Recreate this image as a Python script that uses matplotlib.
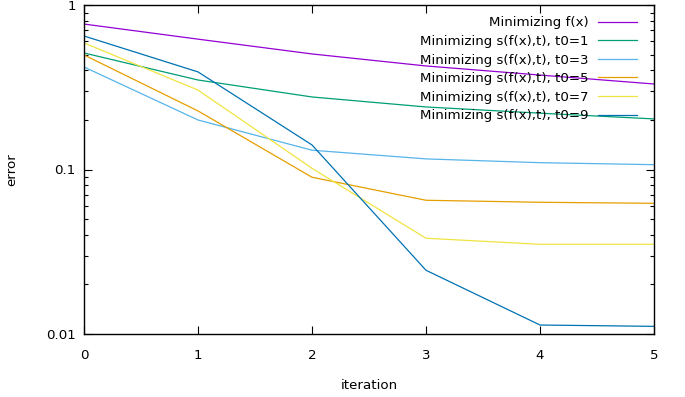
import matplotlib
matplotlib.use('Agg')
import matplotlib.pyplot as plt
from matplotlib.ticker import LogLocator, NullFormatter, FixedLocator

# data
iteration = [0, 1, 2, 3, 4, 5]
f_x = [0.766, 0.62, 0.504, 0.426, 0.375, 0.331]
t0_1 = [0.511, 0.350, 0.276, 0.240, 0.220, 0.203]
t0_3 = [0.420, 0.200, 0.131, 0.116, 0.110, 0.107]
t0_5 = [0.497, 0.227, 0.0897, 0.065, 0.0632, 0.0623]
t0_7 = [0.588, 0.304, 0.1017, 0.0382, 0.0351, 0.0351]
t0_9 = [0.648, 0.392, 0.141, 0.0244, 0.01134, 0.01113]

labels = ['Minimizing f(x)',
          'Minimizing s(f(x),t), t0=1',
          'Minimizing s(f(x),t), t0=3',
          'Minimizing s(f(x),t), t0=5',
          'Minimizing s(f(x),t), t0=7',
          'Minimizing s(f(x),t), t0=9']
colors = ['#9400d3', '#009e73', '#56b4e9', '#e69f00', '#f0e442', '#0072b2']
series = [f_x, t0_1, t0_3, t0_5, t0_7, t0_9]

plt.rcParams['font.family'] = ['DejaVu Sans']
plt.rcParams['font.size'] = 9.6

fig = plt.figure(figsize=(6.85, 3.97), dpi=100)
ax = fig.add_axes([84 / 685, 1 - 334 / 397, 570 / 685, 329 / 397])

for ys, c, lab in zip(series, colors, labels):
    ax.plot(iteration, ys, color=c, lw=0.9, label=lab)

ax.set_yscale('log')
ax.set_xlim(0, 5)
ax.set_ylim(0.01, 1)
ax.yaxis.set_major_locator(FixedLocator([0.01, 0.1, 1]))
ax.set_yticklabels(['0.01', '0.1', '1'])
ax.yaxis.set_minor_locator(LogLocator(base=10, subs=range(2, 10)))
ax.yaxis.set_minor_formatter(NullFormatter())
ax.tick_params(which='both', direction='in', top=True, right=True, width=0.8)
ax.tick_params(which='major', length=6, pad=6)
ax.tick_params(axis='x', which='major', pad=11)
ax.tick_params(which='minor', length=3)
for s in ax.spines.values():
    s.set_linewidth(1.0)

ax.set_xlabel('iteration', labelpad=12)
ax.set_ylabel('error')
ax.yaxis.set_label_coords(-0.116, 0.5)

ax.legend(loc='upper right', bbox_to_anchor=(1, 1 + 6 / 329), frameon=False,
          markerfirst=False, handlelength=2.9, handletextpad=0.7,
          labelspacing=0.42, borderaxespad=0.9, fontsize=9.6)

fig.savefig('out.png', dpi=100)
